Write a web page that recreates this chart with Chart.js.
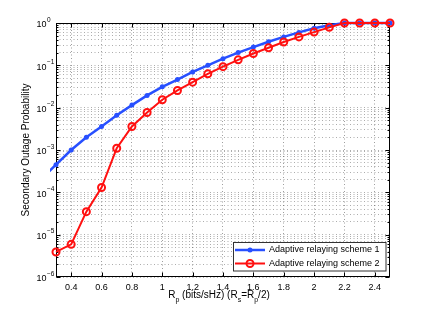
<!DOCTYPE html>
<html>
<head>
<meta charset="utf-8">
<script src="https://cdn.jsdelivr.net/npm/chart.js@4"></script>
<style>
html, body { margin: 0; padding: 0; background: #fff; }
</style>
</head>
<body>
<canvas id="myChart" width="431" height="312"></canvas>
<script>
// R_p values (bits/s/Hz); scheme 1 starts left of the axis, so its first point gets clipped
const rateValues = [0.2, 0.3, 0.4, 0.5, 0.6, 0.7, 0.8, 0.9, 1.0, 1.1, 1.2, 1.3,
    1.4, 1.5, 1.6, 1.7, 1.8, 1.9, 2.0, 2.1, 2.2, 2.3, 2.4, 2.5];
const scheme1 = [2.0e-4, 4.5e-4, 1.0e-3, 2.0e-3, 3.6e-3, 6.6e-3, 1.15e-2, 1.95e-2, 3.1e-2, 4.6e-2, 7.0e-2, 1.0e-1,
    0.144, 0.20, 0.27, 0.36, 0.47, 0.60, 0.75, 0.88, 1, 1, 1, 1];
const scheme2 = [null, 3.9e-6, 5.9e-6, 3.5e-5, 1.3e-4, 1.1e-3, 3.6e-3, 7.7e-3, 1.54e-2, 2.55e-2, 4.0e-2, 6.3e-2,
    9.3e-2, 0.135, 0.19, 0.26, 0.355, 0.47, 0.61, 0.79, 1, 1, 1, 1];
const seriesNames = ['Adaptive relaying scheme 1', 'Adaptive relaying scheme 2'];
const xTicks = [0.4, 0.6, 0.8, 1.0, 1.2, 1.4, 1.6, 1.8, 2.0, 2.2, 2.4];
const yDecades = [-6, -5, -4, -3, -2, -1, 0];

const FONT = "'Liberation Sans', Arial, Helvetica, sans-serif";
const BLUE = '#2850ff';
const RED = '#ff1010';

function toPoints(ys) {
    return rateValues.map((x, i) => ({ x: x, y: ys[i] }));
}

function drawMarker(ctx, cx, cy, which) {
    ctx.beginPath();
    if (which === 0) {
        ctx.fillStyle = BLUE;
        ctx.arc(cx, cy, 2.5, 0, Math.PI * 2);
        ctx.fill();
    } else {
        ctx.strokeStyle = RED;
        ctx.lineWidth = 2;
        ctx.arc(cx, cy, 3.5, 0, Math.PI * 2);
        ctx.stroke();
    }
}

const frame = {
    id: 'frame',
    beforeDatasetsDraw(chart) {
        const { ctx, chartArea: a, scales: { x, y } } = chart;
        const L = Math.round(a.left) + 0.5, R = Math.round(a.right) - 0.5;
        const T = Math.round(a.top) + 0.5, B = Math.round(a.bottom) - 0.5;
        ctx.save();
        ctx.strokeStyle = '#000';
        ctx.lineWidth = 1;
        ctx.beginPath();
        y.ticks.forEach(t => {
            const py = Math.round(y.getPixelForValue(t.value)) + 0.5;
            const major = Math.abs(Math.log10(t.value) - Math.round(Math.log10(t.value))) < 1e-9;
            const len = major ? 4 : 2;
            ctx.moveTo(L, py); ctx.lineTo(L + len, py);
            ctx.moveTo(R, py); ctx.lineTo(R - len, py);
        });
        xTicks.forEach(v => {
            const px = Math.round(x.getPixelForValue(v)) + 0.5;
            ctx.moveTo(px, B); ctx.lineTo(px, B - 4);
            ctx.moveTo(px, T); ctx.lineTo(px, T + 4);
        });
        ctx.stroke();
        ctx.strokeRect(L, T, R - L, B - T);
        ctx.restore();
    },
    afterDraw(chart) {
        const { ctx, chartArea: a, scales: { y } } = chart;
        ctx.save();
        ctx.fillStyle = '#000';

        // y tick labels 10^n
        yDecades.forEach(e => {
            const py = y.getPixelForValue(Math.pow(10, e));
            ctx.font = '9px ' + FONT;
            ctx.textAlign = 'right';
            ctx.textBaseline = 'middle';
            ctx.fillText('10', 46.5, py + 2);
            ctx.font = '6.5px ' + FONT;
            ctx.textAlign = 'left';
            ctx.fillText(e === 0 ? '0' : '\u2212' + (-e), 47, py - 3);
        });

        // y title
        ctx.save();
        ctx.translate(26.5, (a.top + a.bottom) / 2);
        ctx.rotate(-Math.PI / 2);
        ctx.font = '10px ' + FONT;
        ctx.textAlign = 'center';
        ctx.textBaseline = 'middle';
        ctx.fillText('Secondary Outage Probability', 0, 0);
        ctx.restore();

        // x title with subscripts
        const parts = [['R', 0], ['p', 1], [' (bits/sHz) (R', 0], ['s', 1], ['=R', 0], ['p', 1], ['/2)', 0]];
        let total = 0;
        parts.forEach(p => {
            ctx.font = (p[1] ? '7px ' : '10px ') + FONT;
            total += ctx.measureText(p[0]).width;
        });
        let cx = (a.left + a.right) / 2 - 4 - total / 2;
        ctx.textAlign = 'left';
        ctx.textBaseline = 'alphabetic';
        parts.forEach(p => {
            ctx.font = (p[1] ? '7px ' : '10px ') + FONT;
            ctx.fillText(p[0], cx, p[1] ? 302 : 298);
            cx += ctx.measureText(p[0]).width;
        });

        // legend
        const bx = 233.5, by = 242.5, bw = 152.5, bh = 28.5;
        ctx.fillStyle = '#fff';
        ctx.fillRect(bx, by, bw, bh);
        ctx.strokeStyle = '#333';
        ctx.lineWidth = 1;
        ctx.strokeRect(bx, by, bw, bh);
        [250, 263.5].forEach((ly, i) => {
            ctx.strokeStyle = i === 0 ? BLUE : RED;
            ctx.lineWidth = i === 0 ? 2.5 : 2;
            ctx.beginPath();
            ctx.moveTo(235, ly); ctx.lineTo(265, ly);
            ctx.stroke();
            drawMarker(ctx, 250, ly, i);
            ctx.fillStyle = '#000';
            ctx.font = '9px ' + FONT;
            ctx.textAlign = 'left';
            ctx.textBaseline = 'middle';
            ctx.fillText(seriesNames[i], 269, ly);
        });
        ctx.restore();
    }
};

const ctx = document.getElementById('myChart').getContext('2d');

const myChart = new Chart(ctx, {
    type: 'line',
    data: {
        datasets: [{
            label: seriesNames[0],
            data: toPoints(scheme1),
            borderColor: BLUE,
            backgroundColor: BLUE,
            borderWidth: 2.5,
            pointRadius: 2.5,
            pointBorderWidth: 0,
            pointBackgroundColor: BLUE,
            tension: 0,
            clip: 6,
            order: 2
        }, {
            label: seriesNames[1],
            data: toPoints(scheme2),
            borderColor: RED,
            backgroundColor: RED,
            borderWidth: 2,
            pointRadius: 3.5,
            pointBorderWidth: 2,
            pointBorderColor: RED,
            pointBackgroundColor: 'rgba(0,0,0,0)',
            tension: 0,
            clip: 6,
            order: 1
        }]
    },
    options: {
        responsive: false,
        animation: false,
        layout: { padding: { top: 23, right: 41, left: 0, bottom: 0 } },
        plugins: {
            legend: { display: false },
            tooltip: { enabled: false }
        },
        scales: {
            x: {
                type: 'linear',
                min: 0.3,
                max: 2.5,
                afterBuildTicks: s => { s.ticks = xTicks.map(v => ({ value: v })); },
                afterFit: s => { s.height = 35; },
                ticks: {
                    autoSkip: false,
                    maxRotation: 0,
                    padding: 5,
                    color: '#000',
                    font: { family: FONT, size: 9 },
                    callback: v => String(Math.round(v * 10) / 10)
                },
                grid: { color: 'rgba(0,0,0,0.38)', drawTicks: false, lineWidth: 1 },
                border: { display: false, dash: [1, 2.5] }
            },
            y: {
                type: 'logarithmic',
                min: 1e-6,
                max: 1,
                afterBuildTicks: s => {
                    const t = [];
                    yDecades.forEach(e => {
                        for (let m = 1; m <= 9; m++) {
                            if (e === 0 && m > 1) break;
                            t.push({ value: m * Math.pow(10, e) });
                        }
                    });
                    s.ticks = t;
                },
                afterFit: s => { s.width = 56; },
                ticks: { display: false },
                grid: { color: 'rgba(0,0,0,0.32)', drawTicks: false, lineWidth: 1 },
                border: { display: false, dash: [1, 2.5] }
            }
        }
    },
    plugins: [frame]
});
</script>
</body>
</html>
